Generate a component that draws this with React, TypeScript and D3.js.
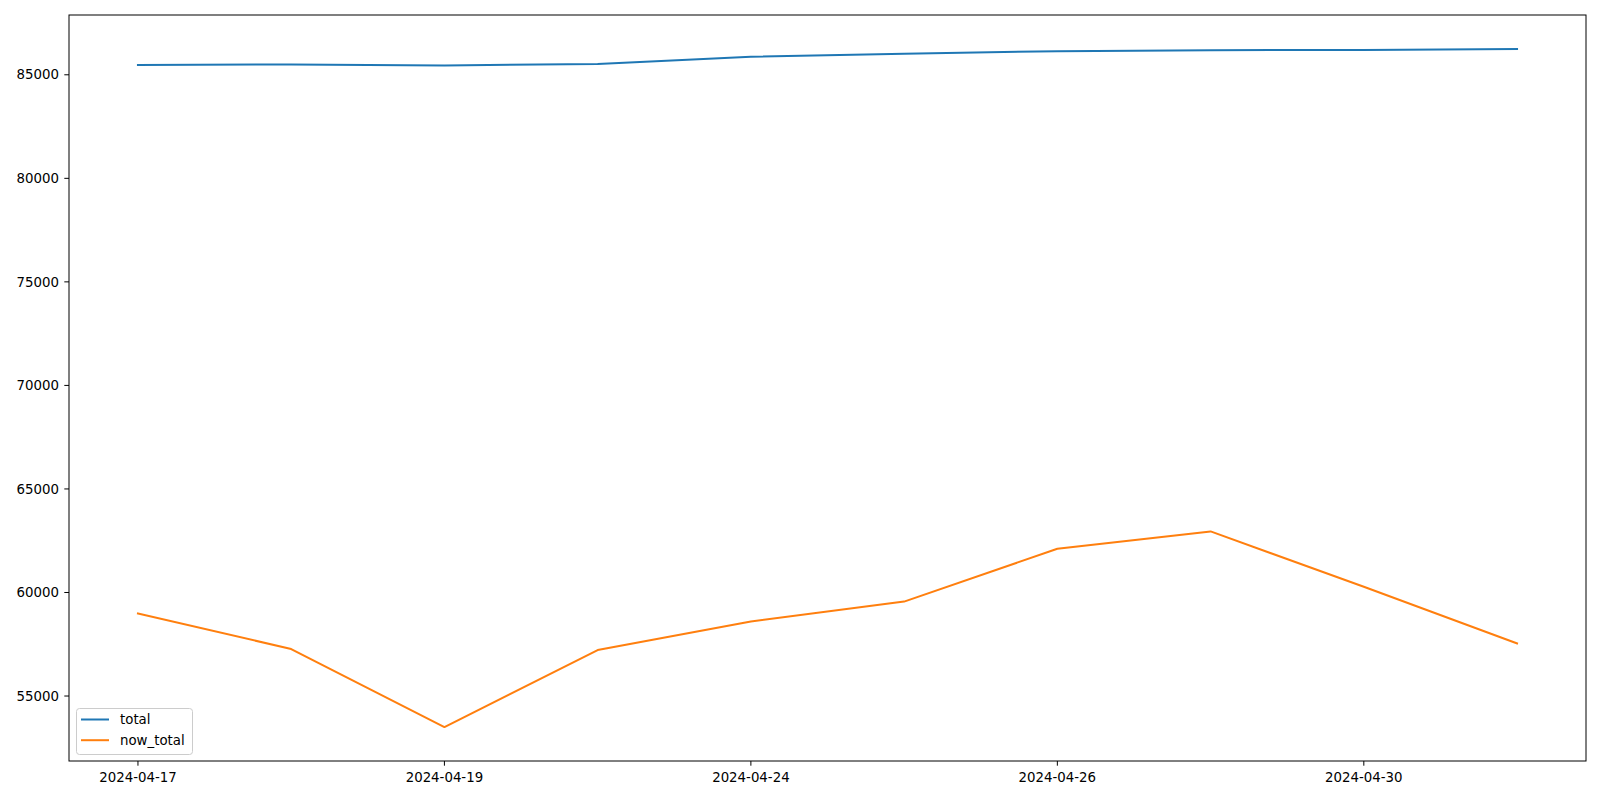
import React from "react";
import * as d3 from "d3";

const categories = [
  "2024-04-17", "2024-04-18", "2024-04-19", "2024-04-23", "2024-04-24",
  "2024-04-25", "2024-04-26", "2024-04-29", "2024-04-30", "2024-05-01",
];
const totalValues = [85470, 85500, 85450, 85525, 85870, 86020, 86140, 86190, 86195, 86250];
const nowTotalValues = [58990, 57270, 53500, 57220, 58600, 59560, 62110, 62950, 60280, 57540];
const yTicks = [55000, 60000, 65000, 70000, 75000, 80000, 85000];
const xTickIndices = [0, 2, 4, 6, 8];
const seriesNames = ["total", "now_total"];
const colors = ["#1f77b4", "#ff7f0e"];

const W = 1600, H = 800;
const L = 69, R = 1586, T = 15, B = 761;
const FONT = "DejaVu Sans, sans-serif";

export default function App() {
  const n = categories.length;
  const x = d3.scaleLinear().domain([-0.45 * (n - 1) / 9 * 1 - 0, n - 1 + 0.45]).range([L, R]);
  const all = [...totalValues, ...nowTotalValues];
  const mn = d3.min(all)!, mx = d3.max(all)!;
  const pad = (mx - mn) * 0.05;
  const y = d3.scaleLinear().domain([mn - pad, mx + pad]).range([B, T]);
  const line = d3.line<number>().x((_, i) => x(i)).y((d) => y(d));
  const series = [totalValues, nowTotalValues];

  return (
    <svg width={W} height={H} style={{ position: "absolute", left: 0, top: 0, background: "#fff" }}>
      <rect x={0} y={0} width={W} height={H} fill="#fff" />
      {series.map((s, k) => (
        <path key={k} d={line(s) || ""} fill="none" stroke={colors[k]} strokeWidth={2} strokeLinejoin="round" strokeLinecap="square" />
      ))}
      <rect x={L} y={T} width={R - L} height={B - T} fill="none" stroke="#000" strokeWidth={1} />
      {yTicks.map((v) => (
        <g key={v} transform={`translate(0,${y(v)})`}>
          <line x1={L - 4.7} x2={L} stroke="#000" strokeWidth={1} />
          <text x={L - 10} dy="0.35em" textAnchor="end" fontFamily={FONT} fontSize={13.33} fill="#000">{v}</text>
        </g>
      ))}
      {xTickIndices.map((i) => (
        <g key={i} transform={`translate(${x(i)},0)`}>
          <line y1={B} y2={B + 4.7} stroke="#000" strokeWidth={1} />
          <text y={B + 21} textAnchor="middle" fontFamily={FONT} fontSize={13.33} fill="#000">{categories[i]}</text>
        </g>
      ))}
      <g>
        <rect x={76.5} y={708.5} width={116} height={46} rx={3} fill="#fff" fillOpacity={0.8} stroke="#ccc" strokeWidth={1} />
        {seriesNames.map((name, k) => (
          <g key={name} transform={`translate(0,${719.5 + k * 20.7})`}>
            <line x1={81} x2={109} stroke={colors[k]} strokeWidth={2} />
            <text x={120} dy="0.35em" fontFamily={FONT} fontSize={13.33} fill="#000">{name}</text>
          </g>
        ))}
      </g>
    </svg>
  );
}
